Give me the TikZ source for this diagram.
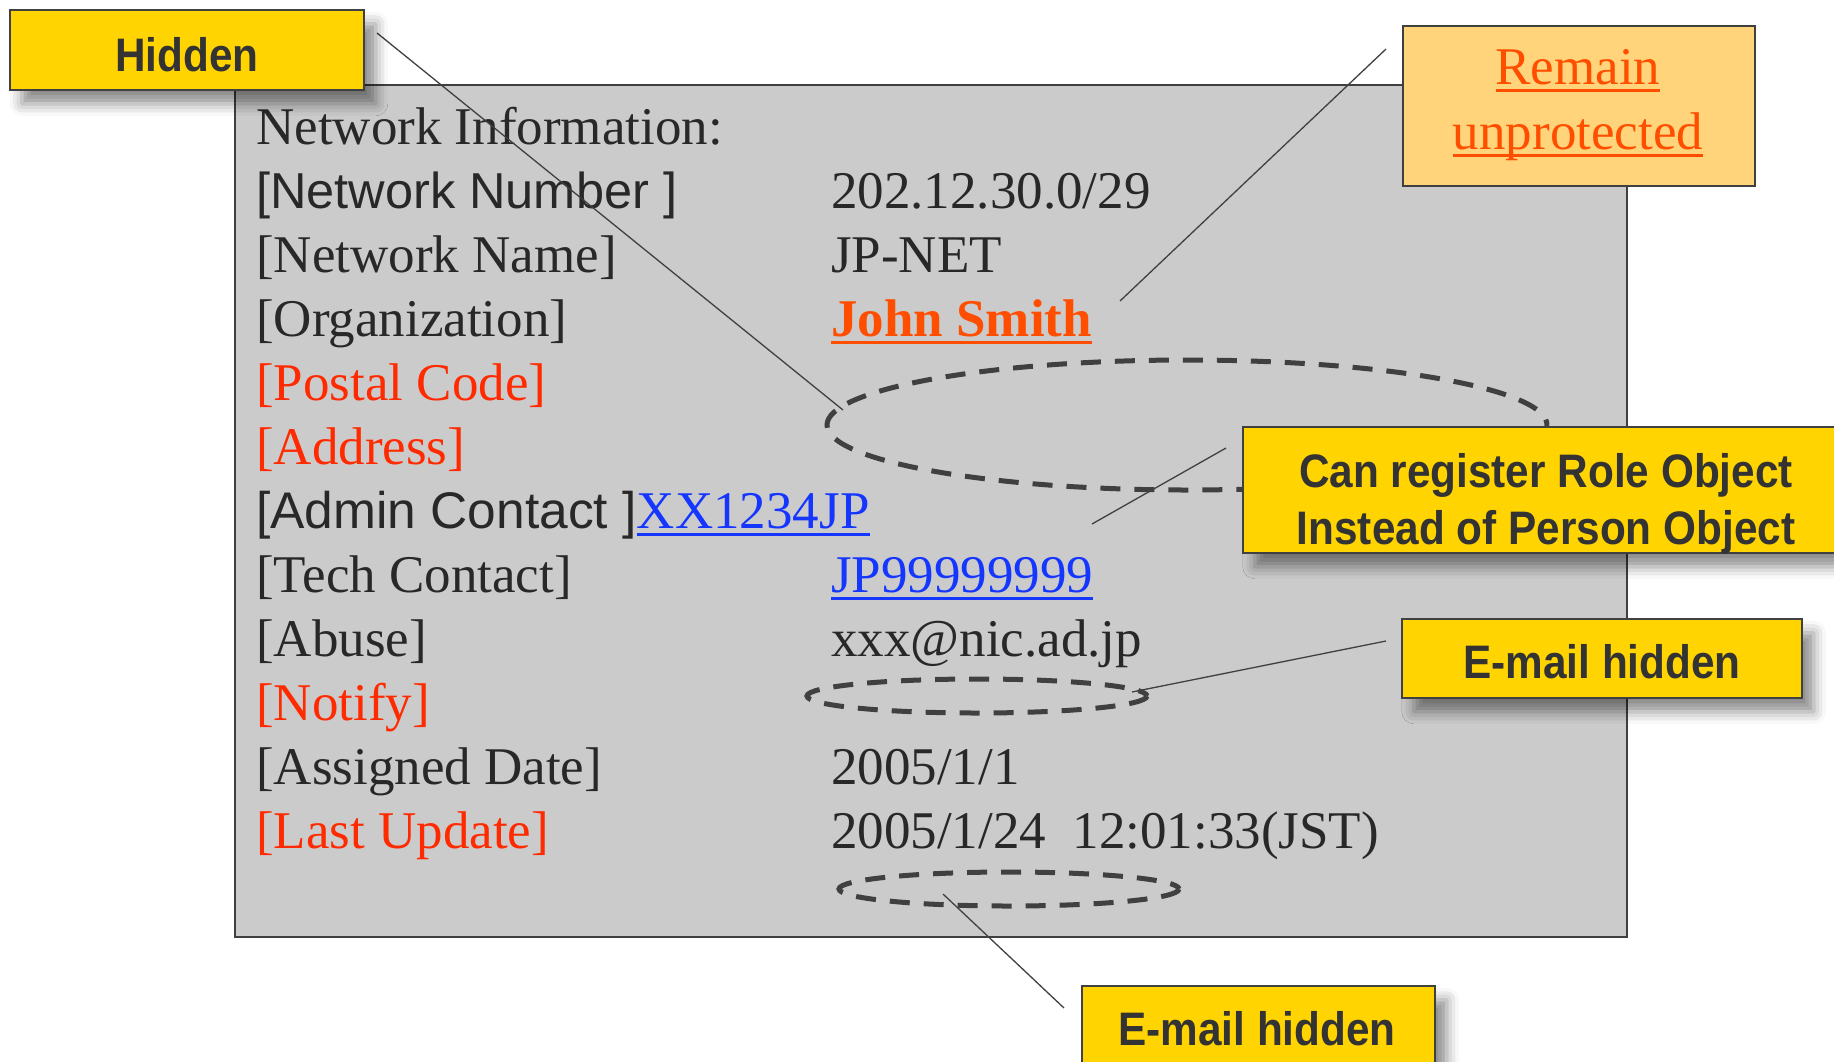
\documentclass[tikz,border=0pt]{standalone}
\usepackage{fontspec}
\setmainfont{Liberation Serif}
\newfontfamily\gothic{Liberation Sans}
\newfontfamily\labelfont[FakeStretch=0.9]{Liberation Sans}
\newcommand{\myul}[1]{\setbox0\hbox{#1}\rlap{\rule[-8pt]{\wd0}{3pt}}\box0}
\usetikzlibrary{shadows.blur}
\definecolor{txt}{HTML}{282828}
\definecolor{lbltxt}{HTML}{333333}
\definecolor{lblred}{HTML}{FF2A00}
\definecolor{jsorange}{HTML}{FF4E00}
\definecolor{linkblue}{HTML}{1536FF}
\definecolor{panelgray}{HTML}{CBCBCB}
\definecolor{gold}{HTML}{FFD400}
\definecolor{lightorange}{HTML}{FFD47A}
\definecolor{edge}{HTML}{404040}
\begin{document}
\begin{tikzpicture}[x=1pt,y=-1pt,
  row/.style={anchor=base west, inner sep=0pt, text=txt, font=\fontsize{53}{64}\selectfont},
  redrow/.style={row, text=lblred},
  sansrow/.style={row, font=\gothic\fontsize{50.5}{64}\selectfont},
  panelbox/.style={draw=edge, line width=1.6pt, fill=panelgray, inner sep=0pt, anchor=north west},
  goldbox/.style={draw=edge, line width=1.6pt, fill=gold, inner sep=0pt, anchor=north west,
    blur shadow={shadow xshift=12pt, shadow yshift=-14pt, shadow blur radius=12pt, shadow opacity=45}},
  orangebox/.style={draw=edge, line width=1.6pt, fill=lightorange, inner sep=0pt, anchor=north west},
  lbltext/.style={anchor=base, inner sep=0pt, text=lbltxt, font=\labelfont\bfseries\fontsize{47}{56}\selectfont},
  hideoval/.style={draw=edge, line width=5pt, dash pattern=on 20pt off 14pt},
  pointer/.style={draw=edge, line width=1.3pt}
]
\useasboundingbox (0,0) rectangle (1834,1061);

% panel
\node[panelbox, minimum width=1392pt, minimum height=852pt] (panel) at (234,84) {};

% left column
\node[row] (netinfo) at (256,144) {Network Information:};
\node[sansrow] (netnum) at (256,208) {[Network Number ]};
\node[row] (netname) at (256,272) {[Network Name]};
\node[row] (org) at (256,336) {[Organization]};
\node[redrow] (postal) at (256,400) {[Postal Code]};
\node[redrow] (addr) at (256,464) {[Address]};
\node[row] (admin) at (256,528) {{\gothic\fontsize{51.5}{64}\selectfont [Admin Contact ]}\textcolor{linkblue}{\myul{XX1234JP}}};
\node[row] (tech) at (256,592) {[Tech Contact]};
\node[row] (abuse) at (256,656) {[Abuse]};
\node[redrow] (notify) at (256,720) {[Notify]};
\node[row] (assigned) at (256,784) {[Assigned Date]};
\node[redrow] (lastupd) at (256,848) {[Last Update]};

% right column
\node[row] (vnetnum) at (831,208) {202.12.30.0/29};
\node[row] (vnetname) at (831,272) {JP-NET};
\node[row, text=jsorange] (vorg) at (831,336) {\myul{\bfseries John Smith}};
\node[row, text=linkblue] (vtech) at (831,592) {\myul{JP99999999}};
\node[row] (vabuse) at (831,656) {xxx@nic.ad.jp};
\node[row] (vassigned) at (831,784) {2005/1/1};
\node[row] (vlastupd) at (831,848) {2005/1/24\ \ 12:01:33(JST)};

% dashed ovals
\draw[hideoval] (1187,425) ellipse [x radius=360, y radius=65];
\draw[hideoval] (977,696) ellipse [x radius=170, y radius=17];
\draw[hideoval] (1009,889) ellipse [x radius=170, y radius=17];

% connector end points
\coordinate (hidA) at (377,33);
\coordinate (hidB) at (843,410);
\coordinate (remA) at (1386,49);
\coordinate (remB) at (1120,301);
\coordinate (canA) at (1226,448);
\coordinate (canB) at (1092,524);
\coordinate (emaA) at (1386,641);
\coordinate (emaB) at (1132,692);
\coordinate (embA) at (1064,1008);
\coordinate (embB) at (943,894);

\draw[pointer] (hidA) -- (hidB);
\draw[pointer] (remA) -- (remB);
\draw[pointer] (canA) -- (canB);
\draw[pointer] (emaA) -- (emaB);
\draw[pointer] (embA) -- (embB);

% callout boxes
\node[goldbox, minimum width=354pt, minimum height=80pt] (hidden) at (9,9) {};
\node[lbltext] (hiddentxt) at (187,71) {Hidden};

\node[orangebox, minimum width=352pt, minimum height=160pt] (remain) at (1402,25) {};
\node[row, anchor=base, text=jsorange] (remain1) at (1578,84) {\myul{Remain}};
\node[row, anchor=base, text=jsorange] (remain2) at (1578,149) {\myul{unprotected}};

\node[goldbox, minimum width=600pt, minimum height=126pt] (canreg) at (1242,426) {};
\node[lbltext] (canreg1) at (1546,487) {Can register Role Object};
\node[lbltext] (canreg2) at (1546,544) {Instead of Person Object};

\node[goldbox, minimum width=400pt, minimum height=79pt] (emaila) at (1401,618) {};
\node[lbltext] (emailatxt) at (1602,678) {E-mail hidden};

\node[goldbox, minimum width=353pt, minimum height=82pt] (emailb) at (1081,985) {};
\node[lbltext] (emailbtxt) at (1257,1045) {E-mail hidden};
\end{tikzpicture}
\end{document}
